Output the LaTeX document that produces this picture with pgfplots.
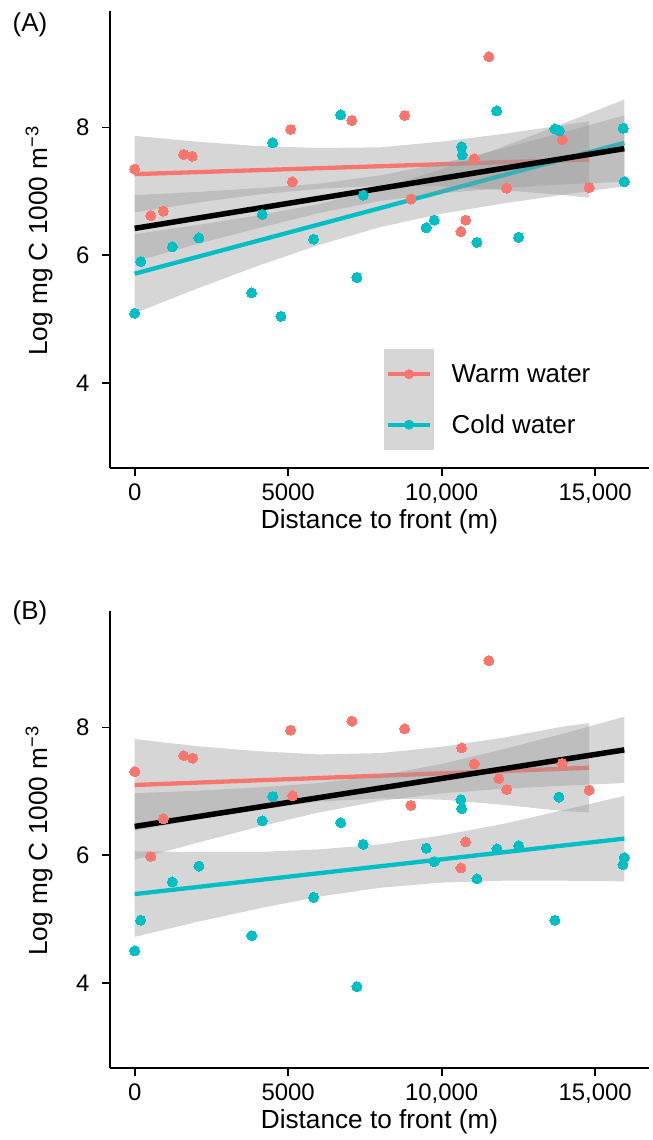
\documentclass[border=0pt]{standalone}
\usepackage{fontspec}
\setmainfont{Liberation Sans}
\usepackage{pgfplots}
\pgfplotsset{compat=1.18}
\definecolor{warm}{HTML}{F8766D}
\definecolor{cold}{HTML}{00BFC4}
\definecolor{grey60}{RGB}{153,153,153}

\pgfplotsset{
  panel/.style={
    scale only axis, width=538.6bp, height=457.5bp,
    xmin=-797.5, xmax=16747.5, ymin=2.66, ymax=9.83,
    axis x line*=bottom, axis y line*=left,
    axis line style={-, line width=1.8bp, black},
    tick align=outside, major tick length=7.7bp,
    tick style={line width=1.8bp, black},
    scaled x ticks=false, scaled y ticks=false,
    xtick={0,5000,10000,15000}, xticklabels={0,5000,{10,000},{15,000}},
    ytick={4,6,8}, yticklabels={4,6,8},
    tick label style={font=\fontsize{24}{28}\selectfont, inner sep=0pt},
    xticklabel style={anchor=north, yshift=-7.7bp},
    yticklabel style={anchor=east, xshift=-13bp},
    label style={font=\fontsize{26.3}{31}\selectfont},
    xlabel={Distance to front (m)},
    ylabel={Log mg C 1000 m\textsuperscript{−3}},
    xlabel style={at={(axis description cs:0.5,-0.117)}, anchor=center},
    ylabel style={at={(axis description cs:-0.132,0.497)}, anchor=center},
    clip=false,
  },
  pts/.style={only marks, mark=*, color=#1, mark size=5bp, mark options={draw=#1, fill=#1, line width=0pt}, forget plot},
  band/.style={draw=none, fill=grey60, fill opacity=0.4, forget plot},
  fit/.style={#1, line width=4.3bp, forget plot},
}

\begin{document}
\begin{tikzpicture}
\useasboundingbox (0,0) rectangle (653bp,1140bp);

% ---------------- Panel A ----------------
\begin{axis}[panel, at={(110.2bp,671.7bp)}, anchor=south west,
  legend style={at={(0.5084,0.2608)}, anchor=north west, draw=none, fill=none,
    inner sep=0pt, outer sep=0pt, nodes={inner sep=0pt}, column sep=17.7bp, row sep=0pt,
    font=\fontsize{26}{30}\selectfont},
  legend cell align=left]
\addlegendimage{legend image code/.code={
  \path[draw=none, fill=none] (0bp,-25.25bp) rectangle (50bp,25.25bp);
  \path[draw=none, fill=grey60, fill opacity=0.4, overlay] (0bp,25.25bp) rectangle (50bp,-75.75bp);
  \path[draw=warm, line width=4.3bp] (4bp,0bp) -- (46bp,0bp);
  \path[draw=none, fill=warm] (25bp,0bp) circle (5bp);
}}
\addlegendentry{Warm water}
\addlegendimage{legend image code/.code={
  \path[draw=none, fill=none] (0bp,-25.25bp) rectangle (50bp,25.25bp);
  \path[draw=cold, line width=4.3bp] (4bp,0bp) -- (46bp,0bp);
  \path[draw=none, fill=cold] (25bp,0bp) circle (5bp);
}}
\addlegendentry{Cold water}

\addplot[pts=warm] table {
x y
0 7.35
520 6.62
933 6.69
1595 7.58
1877 7.55
5080 7.97
5134 7.15
7077 8.11
8793 8.19
8999 6.88
10628 6.37
10781 6.55
11061 7.51
11539 9.11
12116 7.05
13927 7.81
14806 7.06
};
\addplot[pts=cold] table {
x y
0 5.09
195 5.90
1225 6.13
2094 6.27
3811 5.41
4156 6.64
4495 7.76
4765 5.04
5830 6.25
6709 8.20
7240 5.65
7446 6.94
9498 6.43
9758 6.55
10650 7.70
10670 7.57
11149 6.20
11790 8.26
12507 6.28
13689 7.98
13829 7.95
15914 7.99
15947 7.15
};
\addplot[band] coordinates {(0,7.87) (2000,7.78) (4000,7.71) (6000,7.68) (8000,7.69) (10000,7.78) (12000,7.90) (14000,8.04) (14806,8.10) (14806,6.90) (14000,6.94) (12000,7.02) (10000,7.08) (8000,7.09) (6000,7.04) (4000,6.95) (2000,6.82) (0,6.67)} -- cycle;
\addplot[fit=warm] coordinates {(0,7.27) (14806,7.50)};
\addplot[band] coordinates {(0,6.33) (2000,6.47) (4000,6.62) (6000,6.80) (8000,7.04) (10000,7.35) (12000,7.70) (14000,8.07) (15950,8.44) (15950,7.08) (14000,6.95) (12000,6.81) (10000,6.65) (8000,6.44) (6000,6.16) (4000,5.83) (2000,5.47) (0,5.09)} -- cycle;
\addplot[fit=cold] coordinates {(0,5.71) (15950,7.76)};
\addplot[band] coordinates {(0,6.94) (2000,6.99) (4000,7.05) (6000,7.12) (8000,7.25) (10000,7.44) (12000,7.67) (14000,7.93) (15950,8.19) (15950,7.15) (14000,7.11) (12000,7.05) (10000,6.97) (8000,6.85) (6000,6.66) (4000,6.42) (2000,6.17) (0,5.90)} -- cycle;
\addplot[black, line width=5.5bp, forget plot] coordinates {(0,6.42) (15950,7.67)};
\end{axis}

% ---------------- Panel B ----------------
\begin{axis}[panel, at={(110.2bp,71.7bp)}, anchor=south west]
\addplot[pts=warm] table {
x y
0 7.31
520 5.98
933 6.57
1595 7.56
1890 7.52
5080 7.96
5146 6.93
7077 8.10
8793 7.98
8999 6.78
10628 5.80
10650 7.68
10781 6.21
11061 7.43
11539 9.05
11865 7.20
12116 7.03
13927 7.44
14806 7.02
};
\addplot[pts=cold] table {
x y
0 4.50
195 4.98
1225 5.58
2094 5.83
3811 4.74
4156 6.54
4495 6.92
5830 5.34
6709 6.51
7240 3.94
7446 6.17
9498 6.11
9758 5.90
10628 6.87
10650 6.73
11149 5.63
11800 6.10
12507 6.15
13689 4.98
13820 6.91
15904 5.85
15947 5.96
};
\addplot[band] coordinates {(0,7.82) (2000,7.71) (4000,7.63) (6000,7.58) (8000,7.60) (10000,7.70) (12000,7.84) (14000,8.02) (14806,8.07) (14806,6.67) (14000,6.69) (12000,6.79) (10000,6.87) (8000,6.89) (6000,6.84) (4000,6.72) (2000,6.56) (0,6.38)} -- cycle;
\addplot[fit=warm] coordinates {(0,7.10) (14806,7.37)};
\addplot[band] coordinates {(0,6.06) (2000,6.05) (4000,6.05) (6000,6.09) (8000,6.17) (10000,6.31) (12000,6.49) (14000,6.71) (15950,6.93) (15950,5.59) (14000,5.60) (12000,5.60) (10000,5.57) (8000,5.49) (6000,5.35) (4000,5.16) (2000,4.95) (0,4.72)} -- cycle;
\addplot[fit=cold] coordinates {(0,5.39) (15950,6.26)};
\addplot[band] coordinates {(0,6.97) (2000,7.01) (4000,7.06) (6000,7.13) (8000,7.25) (10000,7.43) (12000,7.66) (14000,7.91) (15950,8.17) (15950,7.13) (14000,7.09) (12000,7.04) (10000,6.97) (8000,6.85) (6000,6.67) (4000,6.44) (2000,6.19) (0,5.93)} -- cycle;
\addplot[black, line width=5.5bp, forget plot] coordinates {(0,6.45) (15950,7.65)};
\end{axis}

\node[font=\fontsize{26}{30}\selectfont, inner sep=0pt] at (30bp,1115bp) {(A)};
\node[font=\fontsize{26}{30}\selectfont, inner sep=0pt] at (30bp,527.5bp) {(B)};
\end{tikzpicture}
\end{document}
